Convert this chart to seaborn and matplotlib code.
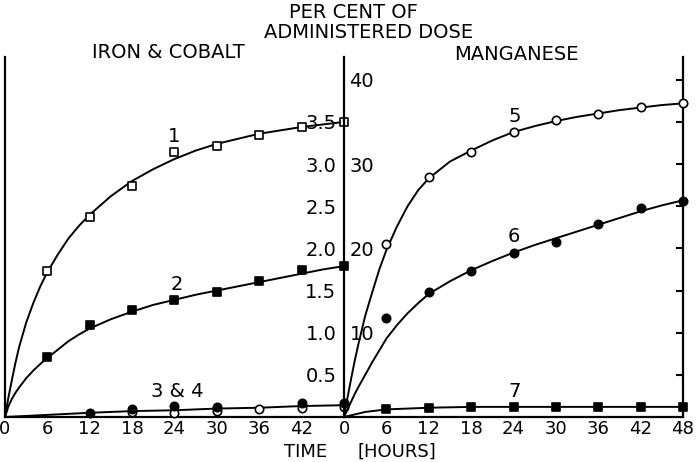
import numpy as np
import pandas as pd
import matplotlib
matplotlib.use("Agg")
import matplotlib.pyplot as plt
import seaborn as sns

sns.set_style("white")
plt.rcParams.update({'font.size': 14, 'font.family': ['DejaVu Sans'], 'text.color': 'black',
	'xtick.color': 'black', 'ytick.color': 'black', 'axes.edgecolor': 'black'})

# measured points (hours, per cent of administered dose)
obs_t = [6, 12, 18, 24, 30, 36, 42, 48]
iron1 = [1.73, 2.37, 2.74, 3.14, 3.21, 3.35, 3.44, 3.50]
iron2 = [0.71, 1.09, 1.27, 1.39, 1.48, 1.61, 1.74, 1.79]
co3_t = [12, 18, 24, 30, 42, 48]
co3 = [0.05, 0.10, 0.13, 0.12, 0.17, 0.17]
co4_t = [18, 24, 30, 36, 42, 48]
co4 = [0.06, 0.05, 0.07, 0.09, 0.11, 0.12]
mn5 = [20.5, 28.5, 31.4, 33.8, 35.2, 35.9, 36.8, 37.2]
mn6 = [11.7, 14.8, 17.3, 19.5, 20.8, 22.9, 24.8, 25.6]
mn7 = [0.95, 1.07, 1.2, 1.2, 1.2, 1.2, 1.2, 1.2]

# drawn curves
fit_t = [0, 0.5, 1, 1.5, 2, 3, 4, 5, 6, 7.5, 9, 10.5, 12, 15, 18, 21, 24, 27, 30, 33, 36, 39, 42, 45, 48]
fit1 = [0, 0.24, 0.45, 0.65, 0.83, 1.12, 1.35, 1.55, 1.72, 1.93, 2.12, 2.27, 2.40, 2.62, 2.80,
	2.94, 3.06, 3.16, 3.24, 3.30, 3.36, 3.40, 3.44, 3.47, 3.50]
fit2 = [0, 0.13, 0.22, 0.29, 0.35, 0.46, 0.55, 0.63, 0.70, 0.80, 0.90, 0.98, 1.05, 1.16, 1.25,
	1.33, 1.39, 1.45, 1.50, 1.55, 1.60, 1.65, 1.70, 1.75, 1.79]
fit5 = [0, 2.3, 4.5, 6.6, 8.5, 12.0, 14.8, 17.5, 19.8, 22.6, 25.0, 26.9, 28.3, 30.3, 31.6,
	32.8, 33.8, 34.5, 35.1, 35.6, 36.0, 36.4, 36.7, 37.0, 37.2]
fit6 = [0, 0.9, 1.8, 2.7, 3.5, 5.0, 6.5, 7.9, 9.3, 10.9, 12.3, 13.5, 14.6, 16.1, 17.4,
	18.5, 19.5, 20.4, 21.2, 22.0, 22.8, 23.6, 24.4, 25.1, 25.7]
fit34_t = [0, 12, 18, 24, 30, 36, 42, 48]
fit34 = [0, 0.05, 0.07, 0.08, 0.10, 0.11, 0.13, 0.14]
fit7_t = [0, 3, 6, 9, 12, 18, 24, 30, 36, 42, 48]
fit7 = [0, 0.6, 0.9, 1.0, 1.1, 1.2, 1.2, 1.2, 1.2, 1.2, 1.2]

hour_ticks = list(range(0, 49, 6))


def curve(ax, t, v):
	sns.lineplot(x=t, y=v, ax=ax, color="black", lw=1.4, estimator=None, sort=False, clip_on=False)


def points(ax, t, v, marker, filled):
	face = "black" if filled else "white"
	sns.scatterplot(x=t, y=v, ax=ax, marker=marker, s=36, color=face, edgecolor="black",
		linewidth=1.2, zorder=4, clip_on=False)


fig = plt.figure(figsize=(7, 4.62), dpi=100)
ax1 = fig.add_axes([5/700, 45/462, 339/700, 360/462])
ax2 = fig.add_axes([344/700, 45/462, 339/700, 360/462])

# left panel: iron & cobalt
curve(ax1, fit_t, fit1)
curve(ax1, fit_t, fit2)
curve(ax1, fit34_t, fit34)
points(ax1, obs_t, iron1, "s", False)
points(ax1, obs_t, iron2, "s", True)
points(ax1, co4_t, co4, "o", False)
points(ax1, co3_t, co3, "o", True)
ax1.text(24, 3.33, "1", ha="center", va="center")
ax1.text(24.3, 1.57, "2", ha="center", va="center")
ax1.text(24.4, 0.30, "3 & 4", ha="center", va="center")

# right panel: manganese
curve(ax2, fit_t, fit5)
curve(ax2, fit_t, fit6)
curve(ax2, fit7_t, fit7)
points(ax2, obs_t, mn5, "o", False)
points(ax2, obs_t, mn6, "o", True)
points(ax2, obs_t, mn7, "s", True)
ax2.text(24.2, 35.6, "5", ha="center", va="center")
ax2.text(24, 21.4, "6", ha="center", va="center")
ax2.text(24.2, 3.0, "7", ha="center", va="center")

for ax in (ax1, ax2):
	ax.set_xlim(0, 48)
	ax.set_xlabel("")
	ax.set_ylabel("")
	ax.spines["top"].set_visible(False)
	for s in ax.spines.values():
		s.set_linewidth(1.6)
		s.set_color("black")
	ax.set_xticks(hour_ticks)
	ax.tick_params(axis="x", length=0, pad=2.5, labelsize=13)
	ax.set_facecolor("none")

ax1.set_ylim(0, 4.27)
ax2.set_ylim(0, 42.7)
ax1.spines["right"].set_visible(False)
ax1.set_xticklabels([str(h) for h in hour_ticks[:-1]] + [""])
ax1.set_yticks(np.arange(0.5, 4.01, 0.5))
ax1.tick_params(axis="y", direction="in", length=5, width=1.5, labelleft=False)

# middle axis: iron scale on the left side
ax2.set_yticks(np.arange(5, 41, 5))
ax2.set_yticklabels(["0.5", "1.0", "1.5", "2.0", "2.5", "3.0", "3.5", ""])
ax2.tick_params(axis="y", direction="inout", length=9, width=1.5, pad=1, labelsize=14)

# middle axis: manganese scale on the right side
sec = ax2.secondary_yaxis(0)
sec.set_alignment("right")
sec.set_yticks([10, 20, 30, 40])
sec.tick_params(axis="y", length=0, pad=4, labelsize=14, colors="black")
for s in sec.spines.values():
	s.set_visible(False)

# right edge ticks
sec2 = ax2.secondary_yaxis("right")
sec2.set_yticks(np.arange(5, 41, 5))
sec2.tick_params(axis="y", direction="in", length=5, width=1.5, labelright=False, labelleft=False)
for s in sec2.spines.values():
	s.set_visible(False)

fig.text(353/700, 1 - 12/462, "PER CENT OF", ha="center", va="center")
fig.text(369/700, 1 - 32/462, "ADMINISTERED DOSE", ha="center", va="center")
fig.text(168/700, 1 - 53/462, "IRON & COBALT", ha="center", va="center")
fig.text(516/700, 1 - 54/462, "MANGANESE", ha="center", va="center")
fig.text(306/700, 1 - 452/462, "TIME", ha="center", va="center", fontsize=13)
fig.text(397/700, 1 - 452/462, "[HOURS]", ha="center", va="center", fontsize=13)

fig.savefig("out.png", dpi=100)
